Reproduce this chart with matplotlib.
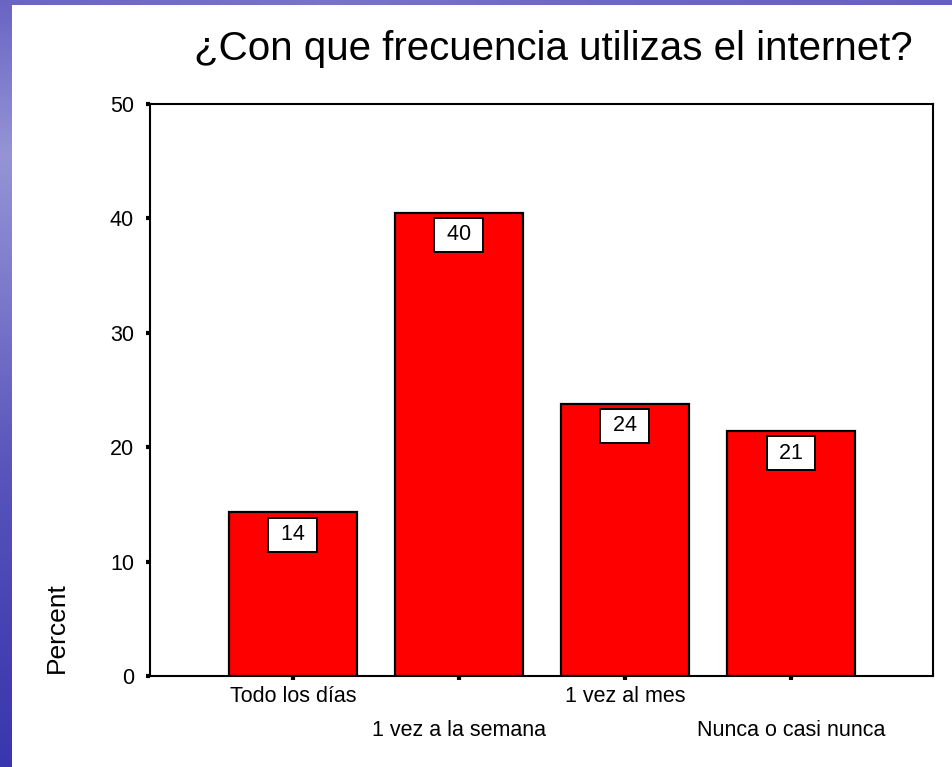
import numpy as np
import matplotlib
matplotlib.use("Agg")
import matplotlib.pyplot as plt
from matplotlib.colors import LinearSegmentedColormap

plt.rcParams['font.family'] = ['Liberation Sans', 'DejaVu Sans']

# Survey results: how often the internet is used
categories = ["Todo los días", "1 vez a la semana", "1 vez al mes", "Nunca o casi nunca"]
percent = [14.3, 40.5, 23.8, 21.4]
y_ticks = [0, 10, 20, 30, 40, 50]

title = "¿Con que frecuencia utilizas el internet?"
y_label = "Percent"

W, H = 953, 767
fig = plt.figure(figsize=(W / 100, H / 100), dpi=100, facecolor="white")

# slide background strips (left and top edge)
slide_cmap = LinearSegmentedColormap.from_list(
    "slide", ["#6a64c4", "#9694d6", "#7a76ca", "#5a56bc", "#4844b4", "#3a36ae"])
left = fig.add_axes([0, 0, 12 / W, 1])
left.imshow(np.linspace(0, 1, 256).reshape(-1, 1), aspect="auto", cmap=slide_cmap)
left.set_axis_off()
top = fig.add_axes([0, 1 - 5 / H, 1, 5 / H])
top.imshow(np.linspace(0, 1, 256).reshape(1, -1), aspect="auto",
           cmap=LinearSegmentedColormap.from_list("top", ["#6a64c4", "#7a74c8", "#6c66c4", "#6860c0"]))
top.set_axis_off()

ax = fig.add_axes([150 / W, (H - 676) / H, (933 - 150) / W, (676 - 104) / H])
x = np.arange(len(categories))
ax.bar(x, percent, width=0.771, color="#ff0000", edgecolor="black", linewidth=1.6, zorder=2)

for xi, v in zip(x, percent):
    ax.annotate(f" {v:.0f} ", xy=(xi, v), xytext=(0, -16), textcoords="offset points",
                ha="center", va="center", fontsize=15.5, zorder=3,
                bbox=dict(boxstyle="square,pad=0.3", facecolor="white", edgecolor="black", linewidth=1.4))

ax.set_xlim(-0.86, 3.855)
ax.set_ylim(0, 50)
ax.set_yticks(y_ticks)
ax.set_yticklabels([str(t) for t in y_ticks])
ax.set_xticks(x)
ax.set_xticklabels(categories)
ax.tick_params(axis="both", direction="out", length=3, width=3, labelsize=15.5, color="black")
ax.tick_params(axis="y", pad=8.6)
for i, tick in enumerate(ax.xaxis.get_major_ticks()):
    tick.set_pad(4.0 if i % 2 == 0 else 29.0)
for s in ax.spines.values():
    s.set_linewidth(1.5)

fig.text(553 / W, 1 - 49 / H, title, ha="center", va="center", fontsize=29)
fig.text(57 / W, 1 - 628 / H, y_label, ha="center", va="center", rotation=90, fontsize=19)

fig.savefig("out.png", dpi=100, facecolor="white")
